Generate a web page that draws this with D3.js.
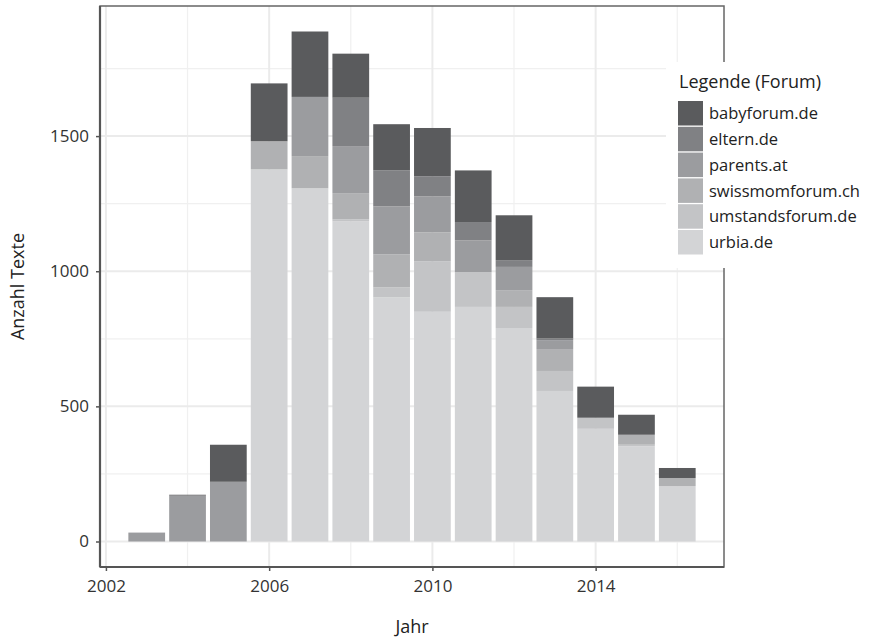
<!DOCTYPE html>
<html>
<head>
<meta charset="utf-8">
<script src="https://cdn.jsdelivr.net/npm/d3@7"></script>
<style>
  body { margin: 0; background: #ffffff; }
  text { font-family: "Open Sans", "Noto Sans", sans-serif; }
</style>
</head>
<body>
<div id="chart"></div>
<script>
// Data
var years = [2003, 2004, 2005, 2006, 2007, 2008, 2009, 2010, 2011, 2012, 2013, 2014, 2015, 2016];
var forums = ["babyforum.de", "eltern.de", "parents.at", "swissmomforum.ch", "umstandsforum.de", "urbia.de"];
var babyforum = [0, 3, 137, 214, 242, 163, 171, 179, 191, 166, 153, 115, 74, 37];
var eltern    = [0, 0, 0, 0, 0, 179, 133, 74, 68, 25, 6, 0, 0, 0];
var parents   = [33, 170, 221, 0, 219, 174, 178, 133, 117, 86, 33, 0, 0, 0];
var swissmom  = [0, 0, 0, 104, 119, 97, 122, 108, 0, 62, 81, 0, 37, 30];
var umstands  = [0, 0, 0, 0, 0, 8, 37, 186, 129, 78, 74, 41, 6, 0];
var urbia     = [0, 0, 0, 1377, 1307, 1184, 903, 850, 868, 790, 557, 417, 352, 205];
var xTicks = [2002, 2006, 2010, 2014];
var yTicks = [0, 500, 1000, 1500];

var colors = {
  "babyforum.de": "#5a5b5d",
  "eltern.de": "#808184",
  "parents.at": "#9b9c9f",
  "swissmomforum.ch": "#b0b1b3",
  "umstandsforum.de": "#c3c4c6",
  "urbia.de": "#d3d4d6"
};

var svgWidth = 871;
var svgHeight = 639;

// panel box
var panel = { left: 100, right: 724, top: 6, bottom: 567 };

var svg = d3.select("#chart")
  .append("svg")
  .attr("width", svgWidth)
  .attr("height", svgHeight);

// build table for the stack
var series = [babyforum, eltern, parents, swissmom, umstands, urbia];
var table = years.map(function(y, i) {
  var row = { year: y };
  forums.forEach(function(f, j) { row[f] = series[j][i]; });
  return row;
});

// bottom of stack is urbia, top is babyforum
var stackKeys = forums.slice().reverse();
var stacked = d3.stack().keys(stackKeys)(table);

var maxTotal = d3.max(table, function(d) {
  return d3.sum(forums, function(f) { return d[f]; });
});

// scales with ggplot-like expansion
var barW = 0.9;
var xMin = d3.min(years) - barW / 2, xMax = d3.max(years) + barW / 2;
var xPad = (xMax - xMin) * 0.05;
var x = d3.scaleLinear()
  .domain([xMin - xPad, xMax + xPad])
  .range([panel.left, panel.right]);

var y = d3.scaleLinear()
  .domain([-maxTotal * 0.05, maxTotal * 1.05])
  .range([panel.bottom, panel.top]);

// panel background + grid
var grid = svg.append("g");
grid.append("rect")
  .attr("x", panel.left).attr("y", panel.top)
  .attr("width", panel.right - panel.left)
  .attr("height", panel.bottom - panel.top)
  .attr("fill", "#ffffff");

var yMinor = [250, 750, 1250, 1750];
var xMinor = [2004, 2008, 2012, 2016];

grid.selectAll(".ymin").data(yMinor).enter().append("line")
  .attr("x1", panel.left).attr("x2", panel.right)
  .attr("y1", d => y(d)).attr("y2", d => y(d))
  .attr("stroke", "#f0f0f0").attr("stroke-width", 1.2);
grid.selectAll(".xmin").data(xMinor).enter().append("line")
  .attr("y1", panel.top).attr("y2", panel.bottom)
  .attr("x1", d => x(d)).attr("x2", d => x(d))
  .attr("stroke", "#f0f0f0").attr("stroke-width", 1.2);
grid.selectAll(".ymaj").data(yTicks).enter().append("line")
  .attr("x1", panel.left).attr("x2", panel.right)
  .attr("y1", d => y(d)).attr("y2", d => y(d))
  .attr("stroke", "#ebebeb").attr("stroke-width", 2);
grid.selectAll(".xmaj").data(xTicks).enter().append("line")
  .attr("y1", panel.top).attr("y2", panel.bottom)
  .attr("x1", d => x(d)).attr("x2", d => x(d))
  .attr("stroke", "#ebebeb").attr("stroke-width", 2);

// stacked bars
var layers = svg.append("g").selectAll("g")
  .data(stacked)
  .enter()
  .append("g")
  .attr("fill", d => colors[d.key]);

layers.selectAll("rect")
  .data(d => d)
  .enter()
  .append("rect")
  .attr("x", d => x(d.data.year - barW / 2))
  .attr("width", d => x(d.data.year + barW / 2) - x(d.data.year - barW / 2))
  .attr("y", d => y(d[1]))
  .attr("height", d => y(d[0]) - y(d[1]));

// panel border
svg.append("rect")
  .attr("x", panel.left).attr("y", panel.top)
  .attr("width", panel.right - panel.left)
  .attr("height", panel.bottom - panel.top)
  .attr("fill", "none")
  .attr("stroke", "#666666")
  .attr("stroke-width", 1.5);

// axes
var bottomAxis = d3.axisBottom(x).tickValues(xTicks).tickFormat(d3.format("d")).tickSize(4).tickPadding(9);
var leftAxis = d3.axisLeft(y).tickValues(yTicks).tickFormat(d3.format("d")).tickSize(4).tickPadding(7);

var gx = svg.append("g")
  .attr("transform", `translate(0, ${panel.bottom})`)
  .call(bottomAxis);
var gy = svg.append("g")
  .attr("transform", `translate(${panel.left}, 0)`)
  .call(leftAxis);

[gx, gy].forEach(function(g) {
  g.select(".domain").attr("stroke", "#555555").attr("stroke-width", 2.2);
  g.selectAll(".tick line").attr("stroke", "#555555").attr("stroke-width", 1.5);
  g.selectAll(".tick text")
    .attr("fill", "#333333")
    .style("font-size", "17px");
});
gx.select(".domain").attr("d", `M${panel.left},0H${panel.right}`);
gy.select(".domain").attr("d", `M0,${panel.top}V${panel.bottom}`);

// axis titles
svg.append("text")
  .attr("x", (panel.left + panel.right) / 2)
  .attr("y", 633)
  .attr("text-anchor", "middle")
  .attr("fill", "#222222")
  .style("font-size", "18px")
  .text("Jahr");

svg.append("text")
  .attr("transform", `translate(24, ${(panel.top + panel.bottom) / 2}) rotate(-90)`)
  .attr("text-anchor", "middle")
  .attr("fill", "#222222")
  .style("font-size", "18px")
  .text("Anzahl Texte");

// legend
var legend = svg.append("g");
legend.append("rect")
  .attr("x", 666).attr("y", 62)
  .attr("width", 210).attr("height", 206)
  .attr("fill", "#ffffff");

legend.append("text")
  .attr("x", 679).attr("y", 88)
  .attr("fill", "#222222")
  .style("font-size", "18px")
  .text("Legende (Forum)");

var items = legend.selectAll(".item")
  .data(forums)
  .enter()
  .append("g")
  .attr("transform", (d, i) => `translate(678, ${101 + i * 25.8})`);

items.append("rect")
  .attr("width", 25).attr("height", 24.5)
  .attr("fill", d => colors[d]);

items.append("text")
  .attr("x", 31).attr("y", 12.5)
  .attr("dy", "0.35em")
  .attr("fill", "#222222")
  .style("font-size", "16.5px")
  .text(d => d);
</script>
</body>
</html>
